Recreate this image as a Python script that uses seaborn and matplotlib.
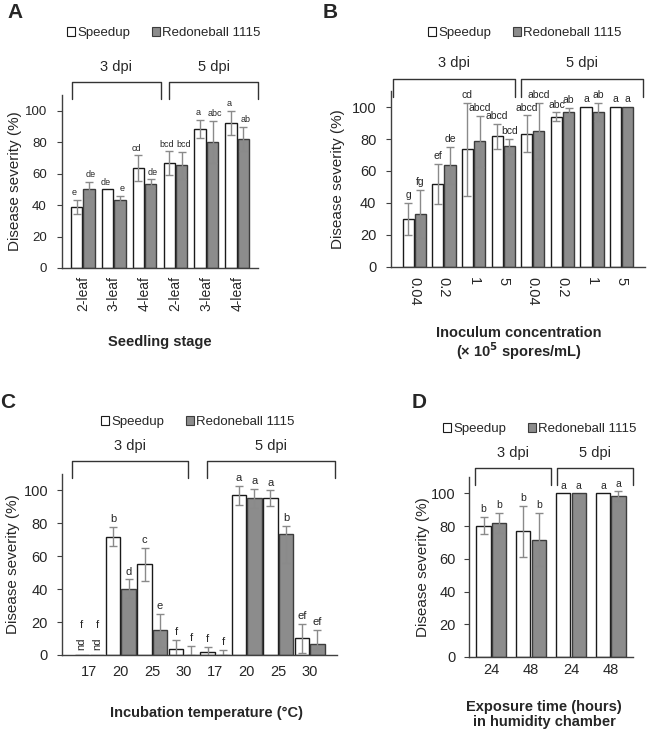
import matplotlib
matplotlib.use('Agg')
import matplotlib.pyplot as plt
from matplotlib.patches import Patch
from matplotlib.lines import Line2D
import seaborn as sns
import pandas as pd

# ---- data ----
cultivars = ['Speedup', 'Redoneball 1115']

# A: seedling stage
a_ticks = ['2-leaf', '3-leaf', '4-leaf', '2-leaf', '3-leaf', '4-leaf']
a_speed = [38.8, 50.0, 63.6, 66.7, 88.3, 92.2]
a_red = [50.2, 43.4, 53.6, 65.3, 80.1, 82.0]
a_speed_err = [4.5, 0.0, 8.0, 7.4, 5.8, 7.7]
a_red_err = [4.8, 2.6, 2.8, 8.7, 13.3, 7.7]
a_speed_let = ['e', 'de', 'cd', 'bcd', 'a', 'a']
a_red_let = ['de', 'e', 'de', 'bcd', 'abc', 'ab']

# B: inoculum concentration
b_ticks = ['0.04', '0.2', '1', '5', '0.04', '0.2', '1', '5']
b_speed = [30.2, 52.1, 73.5, 81.7, 83.3, 93.8, 100.0, 100.0]
b_red = [33.3, 63.5, 78.5, 75.4, 85.0, 96.9, 96.9, 100.0]
b_speed_err = [10.0, 12.5, 29.0, 7.8, 11.5, 2.8, 0.0, 0.0]
b_red_err = [15.0, 11.7, 16.0, 4.9, 17.5, 2.7, 5.6, 0.0]
b_speed_let = ['g', 'ef', 'cd', 'abcd', 'abcd', 'abc', 'a', 'a']
b_red_let = ['fg', 'de', 'abcd', 'bcd', 'abcd', 'ab', 'ab', 'a']

# C: incubation temperature (first group not detected)
c_ticks = ['17', '20', '25', '30', '17', '20', '25', '30']
c_speed = [0.0, 72.0, 55.2, 3.5, 1.6, 97.0, 95.3, 10.1]
c_red = [0.0, 40.2, 15.0, 0.0, 0.0, 95.3, 73.6, 6.7]
c_speed_err = [0.0, 5.9, 10.1, 5.6, 3.1, 5.8, 4.8, 8.7]
c_red_err_lo = [0.0, 5.8, 10.2, 0.0, 0.0, 5.8, 17.4, 3.3]
c_red_err_hi = [0.0, 5.8, 10.2, 5.7, 2.9, 5.8, 5.1, 8.5]
c_speed_let = ['f', 'b', 'c', 'f', 'f', 'a', 'a', 'ef']
c_red_let = ['f', 'd', 'e', 'f', 'f', 'a', 'b', 'ef']
c_nd = [0]

# D: exposure time
d_ticks = ['24', '48', '24', '48']
d_speed = [80.3, 76.8, 100.0, 100.0]
d_red = [82.0, 71.7, 100.0, 98.4]
d_speed_err = [5.1, 15.4, 0.0, 0.0]
d_red_err = [6.0, 16.2, 0.0, 2.8]
d_speed_let = ['b', 'b', 'a', 'a']
d_red_let = ['b', 'b', 'a', 'a']

W, H = 648, 732
fills = {'Speedup': 'white', 'Redoneball 1115': '#8c8c8c'}
edges = ['#1a1a1a', '#3c3c3c']
err_color = '#8a8a8a'

sns.set_theme(style='white')
plt.rcParams['font.family'] = ['Liberation Sans', 'DejaVu Sans']

fig = plt.figure(figsize=(W / 100, H / 100), dpi=100)


def px_axes(x0, y0, x1, y1):
    return fig.add_axes([x0 / W, 1 - y1 / H, (x1 - x0) / W, (y1 - y0) / H])


def draw_panel(ax, ticks, speed, red, speed_err, red_err, speed_let, red_let,
               width, rot, tick_fs, ytick_fs, let_fs, tick_pad, ytick_pad,
               nd=(), spread=0):
    n = len(ticks)
    df = pd.DataFrame({
        'pos': list(range(n)) * 2,
        'cultivar': [cultivars[0]] * n + [cultivars[1]] * n,
        'severity': speed + red,
    })
    sns.barplot(data=df, x='pos', y='severity', hue='cultivar',
                hue_order=cultivars, palette=fills, width=width, gap=0.08,
                errorbar=None, legend=False, linewidth=1.0, ax=ax)
    series = [(speed, speed_err, speed_let), (red, red_err, red_let)]
    for k, (cont, (vals, err, lets)) in enumerate(zip(ax.containers, series)):
        if isinstance(err, tuple):
            lo, hi = err
        else:
            lo, hi = err, err
        dx = -spread if k == 0 else spread
        for i, bar in enumerate(cont):
            bar.set_edgecolor(edges[k])
            x = bar.get_x() + bar.get_width() / 2
            if hi[i] > 0 or lo[i] > 0:
                ax.errorbar([x], [vals[i]], yerr=[[lo[i]], [hi[i]]], fmt='none',
                            ecolor=err_color, elinewidth=1.0, capsize=3,
                            capthick=1.0)
            if i in nd:
                ax.text(x, 3, 'nd', rotation=90, ha='center', va='bottom',
                        fontsize=let_fs)
                ax.annotate(lets[i], (x, 15), ha='center', va='bottom',
                            fontsize=let_fs)
            else:
                ax.annotate(lets[i], (x, vals[i] + hi[i]), xytext=(dx, 2),
                            textcoords='offset points', ha='center',
                            va='bottom', fontsize=let_fs)
    ax.set_ylim(0, 110)
    ax.set_yticks(range(0, 101, 20))
    ax.set_xticks(range(n))
    ax.set_xticklabels(ticks, rotation=rot, fontsize=tick_fs)
    ax.tick_params(axis='x', length=0, pad=tick_pad)
    ax.tick_params(axis='y', length=3.5, width=0.8, direction='out', left=True,
                   labelsize=ytick_fs, pad=ytick_pad, color='#404040')
    ax.set_xlabel('')
    ax.set_ylabel('Disease severity (%)', fontsize=11)
    for s in ['top', 'right']:
        ax.spines[s].set_visible(False)
    for s in ['left', 'bottom']:
        ax.spines[s].set_color('#404040')
        ax.spines[s].set_linewidth(1.0)


def bracket(x0, x1, ytop, ybot, label, label_y):
    fig.add_artist(Line2D([x0 / W, x0 / W, x1 / W, x1 / W],
                          [1 - ybot / H, 1 - ytop / H, 1 - ytop / H, 1 - ybot / H],
                          transform=fig.transFigure, color='#333333', lw=1.0))
    fig.text((x0 + x1) / 2 / W, 1 - label_y / H, label, ha='center',
             va='center', fontsize=10.5)


def legend_at(cx, cy):
    handles = [Patch(facecolor=fills[c], edgecolor=edges[i], linewidth=0.8)
               for i, c in enumerate(cultivars)]
    fig.legend(handles=handles, labels=cultivars, loc='center',
               bbox_to_anchor=(cx / W, 1 - cy / H), ncol=2, frameon=False,
               fontsize=9.5, handlelength=0.6, handleheight=0.6,
               handletextpad=0.2, columnspacing=1.6, borderpad=0)


def ftext(x, y, s, **kw):
    fig.text(x / W, 1 - y / H, s, **kw)


# ---- panel A ----
axA = px_axes(62, 95, 258, 268)
draw_panel(axA, a_ticks, a_speed, a_red, a_speed_err, a_red_err,
           a_speed_let, a_red_let, 0.8, 90, 10, 9.5, 6.5, 6, 7.5, spread=1.5)
axA.yaxis.set_label_coords(-0.204, 0.5)
legend_at(164, 33)
bracket(72, 161, 82, 99, '3 dpi', 67)
bracket(169, 258, 82, 99, '5 dpi', 67)
ftext(160, 342, 'Seedling stage', ha='center', va='center', fontsize=10.5,
      fontweight='bold')
ftext(7, 12, 'A', ha='left', va='center', fontsize=15, fontweight='bold')

# ---- panel B ----
axB = px_axes(391, 91, 645, 267)
draw_panel(axB, b_ticks, b_speed, b_red, b_speed_err, b_red_err,
           b_speed_let, b_red_let, 0.82, 270, 10.5, 10.5, 7.5, 7, 7)
axB.yaxis.set_label_coords(-0.18, 0.5)
legend_at(525, 33)
bracket(393, 515, 79, 97, '3 dpi', 63)
bracket(521, 643, 79, 97, '5 dpi', 63)
ftext(519, 333, 'Inoculum concentration', ha='center', va='center',
      fontsize=10.5, fontweight='bold')
ftext(519, 351, '(× 10$^{\\mathbf{5}}$ spores/mL)', ha='center', va='center',
      fontsize=10.5, fontweight='bold')
ftext(323, 12, 'B', ha='left', va='center', fontsize=15, fontweight='bold')

# ---- panel C ----
axC = px_axes(62, 474, 337, 655)
draw_panel(axC, c_ticks, c_speed, c_red, c_speed_err,
           (c_red_err_lo, c_red_err_hi), c_speed_let, c_red_let,
           0.98, 0, 10.5, 10.5, 8, 7, 6.5, nd=c_nd)
axC.yaxis.set_label_coords(-0.153, 0.5)
legend_at(198, 422)
bracket(72, 188, 461, 478, '3 dpi', 446)
bracket(207, 335, 461, 478, '5 dpi', 446)
ftext(207, 713, 'Incubation temperature (°C)', ha='center', va='center',
      fontsize=10.5, fontweight='bold')
ftext(0, 402, 'C', ha='left', va='center', fontsize=15, fontweight='bold')

# ---- panel D ----
axD = px_axes(469, 477, 633, 657)
draw_panel(axD, d_ticks, d_speed, d_red, d_speed_err, d_red_err,
           d_speed_let, d_red_let, 0.78, 0, 10.5, 10.5, 7.5, 4, 6)
axD.yaxis.set_label_coords(-0.235, 0.5)
legend_at(540, 429)
bracket(475, 551, 468, 485, '3 dpi', 453)
bracket(557, 633, 468, 485, '5 dpi', 453)
ftext(544, 707, 'Exposure time (hours)', ha='center', va='center',
      fontsize=10.5, fontweight='bold')
ftext(544, 722, 'in humidity chamber', ha='center', va='center',
      fontsize=10.5, fontweight='bold')
ftext(412, 402, 'D', ha='left', va='center', fontsize=15, fontweight='bold')

fig.savefig('out.png', dpi=100)
